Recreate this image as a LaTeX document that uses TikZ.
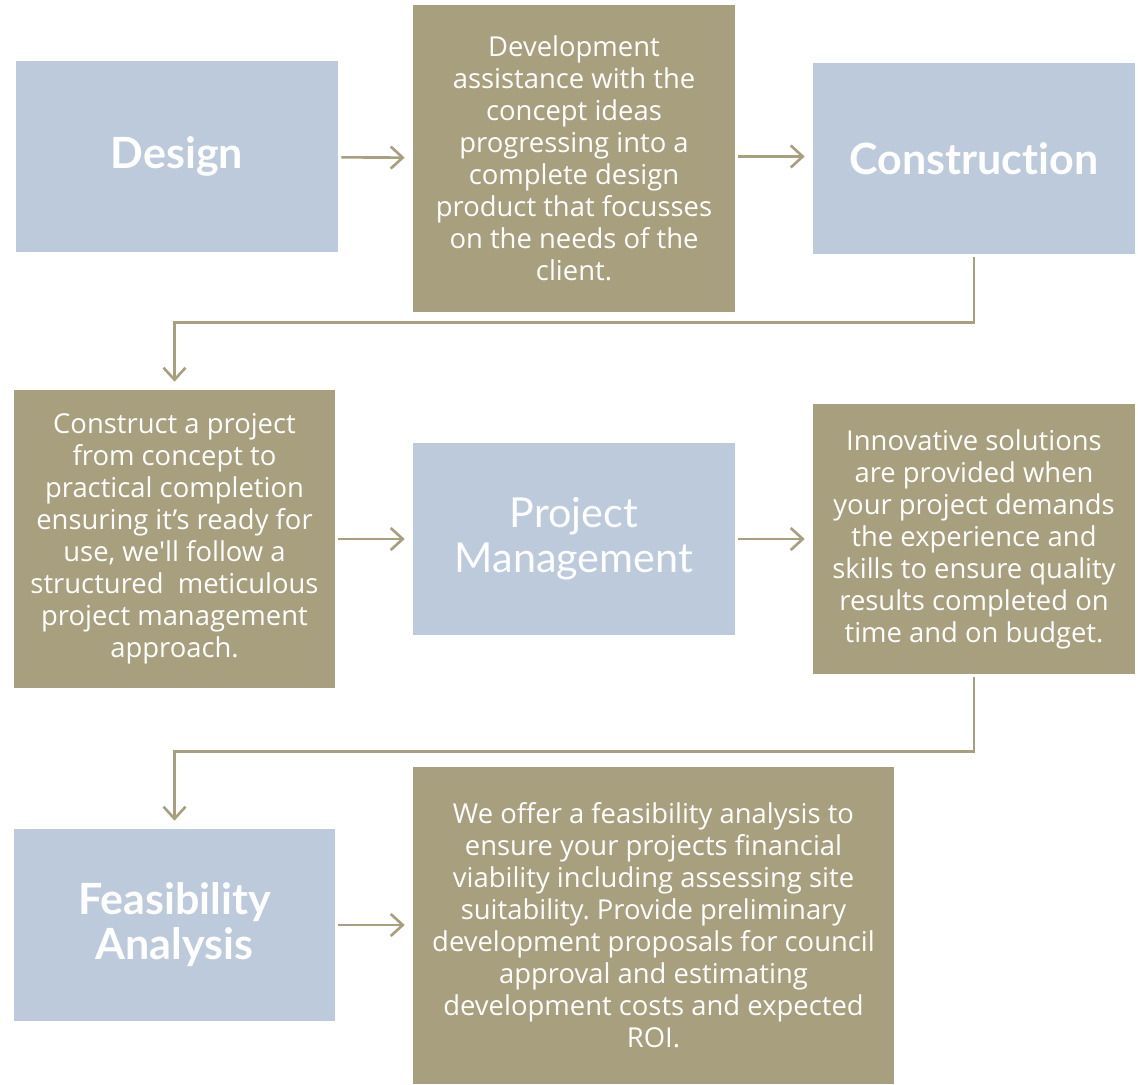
\documentclass[tikz,border=0pt]{standalone}
\usepackage{fontspec}
\setmainfont{Lato}[Ligatures=NoCommon]
\newfontfamily\bodyfont{Open Sans}
\usetikzlibrary{arrows.meta}
\definecolor{paleblue}{HTML}{BCCADB}
\definecolor{sand}{HTML}{A89F7E}
\frenchspacing

\begin{document}
\begin{tikzpicture}[x=0.02cm, y=-0.02cm,
  titlebox/.style={fill=paleblue, text=white, align=center, inner sep=0pt, minimum width=6.44cm, minimum height=3.82cm, font=\fontsize{24.5}{26}\selectfont\bfseries},
  textbox/.style={fill=sand, text=white, align=center, inner sep=0pt, minimum width=6.44cm, font=\bodyfont\fontsize{15.6}{18.2}\selectfont},
  link/.style={draw=sand, line width=1.5pt, -{Straight Barb[length=0.24cm, width=0.44cm]}, shorten <=0.06cm, shorten >=0.16cm}]
  \useasboundingbox (0,0) rectangle (1138,1084);
  \node[titlebox] (design) at (177,156.5) {Design};
  \node[textbox, minimum height=6.14cm] (devbox) at (574,158.5) {Development\\assistance with the\\concept ideas\\progressing into a\\complete design\\product that focusses\\on the needs of the\\client.};
  \node[titlebox] (construction) at (974,158.5) {Construction};
  \node[textbox, minimum width=6.42cm, minimum height=5.96cm] (buildbox) at (174.5,539) {Construct a project\\from concept to\\practical completion\\ensuring it’s ready for\\use, we\textquotesingle ll follow a\\structured\ \ meticulous\\project management\\approach.};
  \node[titlebox, minimum height=3.84cm, font=\fontsize{23.5}{25.6}\selectfont] (pm) at (574,539) {Project\\Management};
  \node[textbox, minimum height=5.4cm] (innovbox) at (974,539) {Innovative solutions\\are provided when\\your project demands\\the experience and\\skills to ensure quality\\results completed on\\time and on budget.};
  \node[titlebox, minimum width=6.42cm, minimum height=3.84cm, font=\fontsize{24.5}{25.6}\selectfont\bfseries] (feas) at (174.5,925) {Feasibility\\Analysis};
  \node[textbox, minimum width=9.62cm, minimum height=6.34cm] (feasbox) at (653.5,925.5) {We offer a feasibility analysis to\\ensure your projects financial\\viability including assessing site\\suitability. Provide preliminary\\development proposals for council\\approval and estimating\\development costs and expected\\ROI.};
  \draw[link] (design) -- (devbox);
  \draw[link] (devbox.east |- design) -- (construction.west |- design);
  \draw[link] (construction.south) -- ++(0,68) -| (buildbox.north);
  \draw[link] (buildbox) -- (pm);
  \draw[link] (pm) -- (innovbox);
  \draw[link] (innovbox.south) -- ++(0,77) -| (feas.north);
  \draw[link] (feas) -- (feasbox.west |- feas);
\end{tikzpicture}
\end{document}
